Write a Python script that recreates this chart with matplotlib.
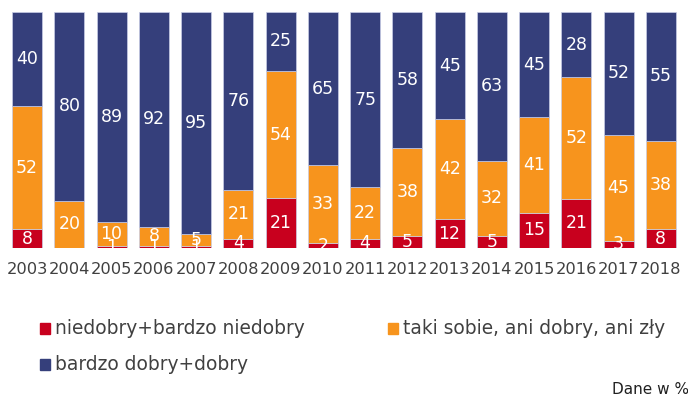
import matplotlib
matplotlib.use("Agg")
import matplotlib.pyplot as plt
from matplotlib.patches import Rectangle
import numpy as np

years = ["2003", "2004", "2005", "2006", "2007", "2008", "2009", "2010",
         "2011", "2012", "2013", "2014", "2015", "2016", "2017", "2018"]
bad = [8, 0, 1, 1, 1, 4, 21, 2, 4, 5, 12, 5, 15, 21, 3, 8]
medium = [52, 20, 10, 8, 5, 21, 54, 33, 22, 38, 42, 32, 41, 52, 45, 38]
good = [40, 80, 89, 92, 95, 76, 25, 65, 75, 58, 45, 63, 45, 28, 52, 55]
series_names = ["niedobry+bardzo niedobry", "taki sobie, ani dobry, ani zły", "bardzo dobry+dobry"]
colors = ["#C8001E", "#F7941D", "#353F7B"]

W, H = 688, 396
fig = plt.figure(figsize=(W / 100, H / 100), dpi=100)
ax = fig.add_axes([6 / W, (H - 248) / H, 676 / W, 236 / H])

data = np.array([bad, medium, good], dtype=float)
totals = data.sum(axis=0)
pct = data / totals * 100
x = np.arange(len(years))
bottom = np.zeros(len(years))
for i in range(3):
    ax.bar(x, pct[i], bottom=bottom, width=0.71, color=colors[i],
           edgecolor="#c8cde6", linewidth=0.5)
    for j in range(len(years)):
        v = data[i][j]
        if v > 0:
            ax.text(x[j], bottom[j] + pct[i][j] / 2, f"{int(v)}", ha="center", va="center",
                    color="white", fontsize=12.5)
    bottom += pct[i]

ax.set_xlim(-0.5, len(years) - 0.5)
ax.set_ylim(0, 100)
ax.set_xticks(x)
ax.set_xticklabels(years, fontsize=11.7, color="#404040")
ax.tick_params(axis="x", length=0, pad=10)
ax.set_yticks([])
for s in ax.spines.values():
    s.set_visible(False)

# legend
leg = [(40, 328, 0), (388, 328, 1), (40, 364, 2)]
for (px, py, k) in leg:
    fig.add_artist(Rectangle((px / W, (H - py - 5.5) / H), 10 / W, 11 / H,
                             transform=fig.transFigure, color=colors[k]))
    fig.text((px + 15) / W, (H - py) / H, series_names[k], ha="left", va="center",
             fontsize=13.4, color="#404040")

fig.text(612 / W, (H - 389) / H, "Dane w %", ha="left", va="center", fontsize=11,
         color="#202020")

fig.savefig("out.png", dpi=100)
